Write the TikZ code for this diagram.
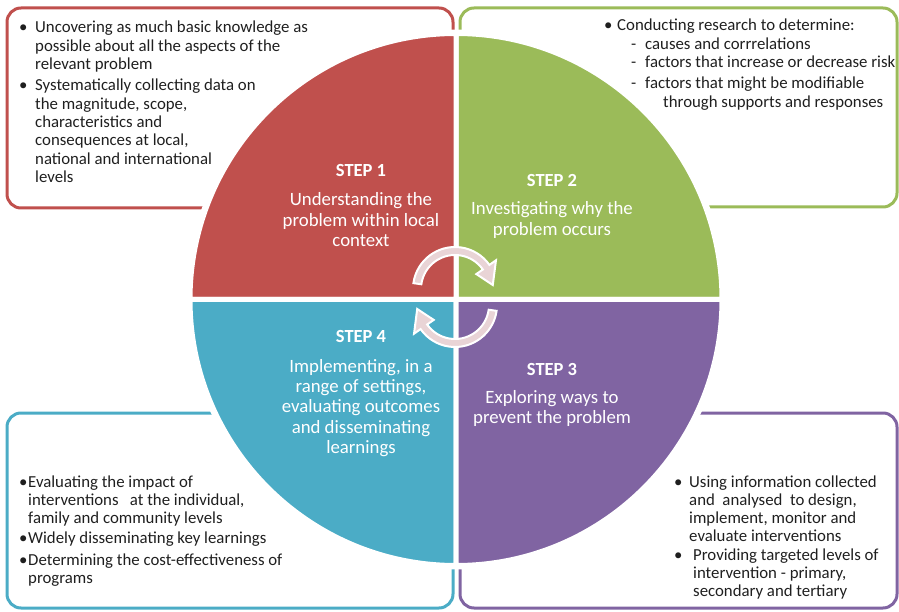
\documentclass[tikz,border=0pt]{standalone}
\usepackage{fontspec}
\setmainfont{Carlito}
\usetikzlibrary{positioning}
\definecolor{stepred}{RGB}{192,80,77}
\definecolor{stepgreen}{RGB}{155,187,89}
\definecolor{stepblue}{RGB}{75,172,198}
\definecolor{steppurple}{RGB}{128,100,162}
\definecolor{cycpink}{RGB}{233,212,214}
\begin{document}
\begin{tikzpicture}[x=1pt,y=1pt,
  frame/.style={draw,line width=3pt,rounded corners=14pt},
  sector/.style={draw=white,line width=5pt,line join=round},
  cyc/.style={fill=cycpink,draw=white,line width=2pt},
  title/.style={font=\fontsize{18.5}{20}\selectfont\bfseries,text=white,anchor=base,inner sep=0pt},
  desc/.style={font=\fontsize{18.8}{20.4}\selectfont,text=white,align=center,anchor=base,inner sep=0pt},
  note/.style={font=\fontsize{16.8}{18.3}\selectfont,text=black!88,align=left,anchor=base west,inner sep=0pt}]
\useasboundingbox (0,0) rectangle (899,611);
% frames behind the circle
\draw[frame,stepred] (7,403) rectangle (453,603);
\draw[frame,stepgreen] (460,404) rectangle (897,603);
\draw[frame,stepblue] (7,3) rectangle (453,198);
\draw[frame,steppurple] (460,3) rectangle (897,198);
% circle in four quarters
\fill[white] (456,311.5) circle[radius=270];
\foreach \c/\a in {stepgreen/0,stepred/90,stepblue/180,steppurple/270}
  \filldraw[sector,fill=\c] (456,311.5) -- ++(\a:266) arc[start angle=\a,delta angle=90,radius=266] -- cycle;
% cycle arrows
\begin{scope}[shift={(455,322)}]
\filldraw[cyc] (172:42) arc[start angle=172,end angle=35,radius=42] -- (35:50) -- (6:38) -- (35:26) -- (35:34) arc[start angle=35,end angle=172,radius=34] -- cycle;
\end{scope}
\begin{scope}[shift={(455,306)},rotate=180]
\filldraw[cyc] (172:42) arc[start angle=172,end angle=35,radius=42] -- (35:50) -- (6:38) -- (35:26) -- (35:34) arc[start angle=35,end angle=172,radius=34] -- cycle;
\end{scope}
% steps (multi-line nodes sit on their last baseline)
\node[title] (s1) at (361,434) {STEP 1};
\node[desc] (d1) at (361,364.2) {Understanding the\\problem within local\\context};
\node[title] (s2) at (552,424) {STEP 2};
\node[desc] (d2) at (552,375.6) {Investigating why the\\problem occurs};
\node[title] (s3) at (552,236) {STEP 3};
\node[desc] (d3) at (552,187.6) {Exploring ways to\\prevent the problem};
\node[title] (s4) at (361,268) {STEP 4};
\node[desc] (d4) at (361,157.4) {Implementing, in a\\range of settings,\\evaluating outcomes\\and disseminating\\learnings};
% step 1 notes
\node[note] (b1a) at (19,578) {•};
\node[note] (t1a) at (35,541.4) {Uncovering as much basic knowledge as\\possible about all the aspects of the\\relevant problem};
\node[note] (b1b) at (19,520) {•};
\node[note] (t1b) at (35,428.5) {Systematically collecting data on\\the magnitude, scope,\\characteristics and\\consequences at local,\\national and international\\levels};
% step 2 notes
\node[note] (b2a) at (604,580) {•};
\node[note] (t2a) at (617,580) {Conducting research to determine:};
\node[note] (h2a) at (631,561) {-};
\node[note] (t2b) at (645,561) {causes and corrrelations};
\node[note] (h2b) at (631,543) {-};
\node[note] (t2c) at (645,543) {factors that increase or decrease risk};
\node[note] (h2c) at (631,522) {-};
\node[note] (t2d) at (645,503.7) {factors that might be modifiable\\\hspace*{18pt}through supports and responses};
% step 4 notes
\node[note] (b4a) at (19,124) {•};
\node[note] (t4a) at (28,87.4) {Evaluating the impact of\\interventions \ \ at the individual,\\family and community levels};
\node[note] (b4b) at (19,68) {•};
\node[note] (t4b) at (28,68) {Widely disseminating key learnings};
\node[note] (b4c) at (19,46) {•};
\node[note] (t4c) at (28,27.7) {Determining the cost-effectiveness of\\programs};
% step 3 notes
\node[note] (b3a) at (674,124) {•};
\node[note] (t3a) at (689,69.1) {Using information collected\\and \ analysed \ to design,\\implement, monitor and\\evaluate interventions};
\node[note] (b3b) at (674,51) {•};
\node[note] (t3b) at (693,14.4) {Providing targeted levels of\\intervention - primary,\\secondary and tertiary};
\end{tikzpicture}
\end{document}
